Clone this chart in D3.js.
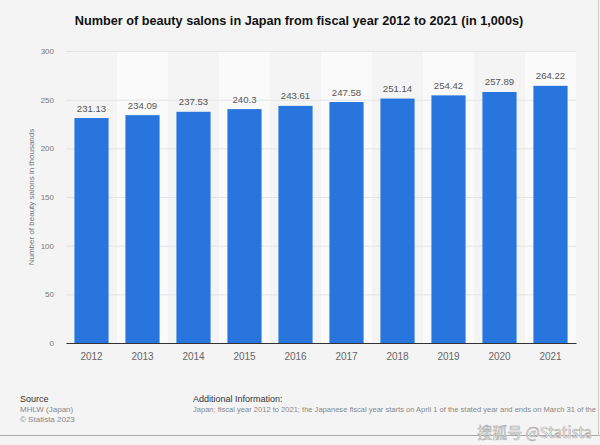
<!DOCTYPE html>
<html>
<head>
<meta charset="UTF-8">
<title>Beauty salons in Japan</title>
<script src="https://d3js.org/d3.v7.min.js"></script>
<style>
  body { margin: 0; background: #f4f4f4; }
  svg { display: block; font-family: "Liberation Sans", Arial, sans-serif; }
</style>
</head>
<body>
<div id="chart"></div>
<script>

var years = ["2012", "2013", "2014", "2015", "2016", "2017", "2018", "2019", "2020", "2021"];
var salons = [231.13, 234.09, 237.53, 240.3, 243.61, 247.58, 251.14, 254.42, 257.89, 264.22];
var yTicks = [0, 50, 100, 150, 200, 250, 300];

var W = 600, H = 445;
var margin = {top: 51, right: 24, bottom: 102, left: 66},
    width = W - margin.left - margin.right,
    height = H - margin.top - margin.bottom;

var svg = d3.select("#chart")
  .append("svg")
    .attr("width", W)
    .attr("height", H);

svg.append("rect")
  .attr("width", W).attr("height", H)
  .attr("fill", "#f4f4f4");

// title
svg.append("text")
  .attr("x", 299).attr("y", 25)
  .attr("text-anchor", "middle")
  .attr("font-size", 12.7)
  .attr("font-weight", "bold")
  .attr("fill", "#111")
  .text("Number of beauty salons in Japan from fiscal year 2012 to 2021 (in 1,000s)");

var g = svg.append("g")
  .attr("transform", "translate(" + margin.left + "," + margin.top + ")");

var x = d3.scaleBand().domain(years).range([0, width]).paddingInner(0.33).paddingOuter(0.165);
var band = d3.scaleBand().domain(years).range([0, width]);
var y = d3.scaleLinear().domain([0, 300]).range([height, 0]);

// lighter column bands
g.selectAll(".band")
  .data(years.filter(function(d, i) { return i % 2 == 1; }))
  .enter().append("rect")
    .attr("x", function(d) { return band(d); })
    .attr("y", 0)
    .attr("width", band.bandwidth())
    .attr("height", height)
    .attr("fill", "#fafafa");

// grid
g.append("g")
  .call(d3.axisLeft(y).tickValues(yTicks).tickSize(-width).tickFormat(""))
  .call(function(a) {
    a.select(".domain").remove();
    a.selectAll("line").attr("stroke", "#e4e4e4");
  });

// y tick labels
g.append("g")
  .call(d3.axisLeft(y).tickValues(yTicks).tickSize(0).tickPadding(12))
  .call(function(a) {
    a.select(".domain").remove();
    a.selectAll("text")
      .attr("font-family", "Liberation Sans, Arial, sans-serif")
      .attr("font-size", 8)
      .attr("fill", "#777");
  });

// bars
g.selectAll(".bar")
  .data(salons)
  .enter().append("rect")
    .attr("x", function(d, i) { return x(years[i]); })
    .attr("y", function(d) { return y(d); })
    .attr("width", x.bandwidth())
    .attr("height", function(d) { return height - y(d); })
    .attr("fill", "#2876dd");

// value labels
g.selectAll(".val")
  .data(salons)
  .enter().append("text")
    .attr("x", function(d, i) { return x(years[i]) + x.bandwidth() / 2; })
    .attr("y", function(d) { return y(d) - 6.5; })
    .attr("text-anchor", "middle")
    .attr("font-size", 9.6)
    .attr("fill", "#555")
    .text(function(d) { return d; });

// x axis
g.append("g")
  .attr("transform", "translate(0," + height + ")")
  .call(d3.axisBottom(x).tickSize(0).tickPadding(10))
  .call(function(a) {
    a.select(".domain").attr("stroke", "#333").attr("stroke-width", 1.2);
    a.selectAll("text")
      .attr("font-family", "Liberation Sans, Arial, sans-serif")
      .attr("font-size", 10)
      .attr("fill", "#666");
  });

// y axis title
svg.append("text")
  .attr("transform", "translate(34," + (margin.top + height / 2) + ") rotate(-90)")
  .attr("text-anchor", "middle")
  .attr("font-size", 8)
  .attr("fill", "#777")
  .text("Number of beauty salons in thousands");

// footer
svg.append("text").attr("x", 20).attr("y", 402)
  .attr("font-size", 9).attr("fill", "#333").text("Source");
svg.append("text").attr("x", 20).attr("y", 412)
  .attr("font-size", 8).attr("fill", "#888").text("MHLW (Japan)");
svg.append("text").attr("x", 20).attr("y", 421.5)
  .attr("font-size", 8).attr("fill", "#888").text("\u00a9 Statista 2023");

svg.append("text").attr("x", 193).attr("y", 402)
  .attr("font-size", 9).attr("fill", "#333").text("Additional Information:");
svg.append("text").attr("x", 193).attr("y", 412)
  .attr("font-size", 7.6).attr("fill", "#888")
  .attr("textLength", 403).attr("lengthAdjust", "spacingAndGlyphs")
  .text("Japan; fiscal year 2012 to 2021; the Japanese fiscal year starts on April 1 of the stated year and ends on March 31 of the");

// frame lines
svg.append("line").attr("x1", 0).attr("x2", W).attr("y1", 435.5).attr("y2", 435.5)
  .attr("stroke", "#aaa");
svg.append("line").attr("x1", 598.5).attr("x2", 598.5).attr("y1", 0).attr("y2", 436)
  .attr("stroke", "#ccc");

// watermark
svg.append("text").attr("x", 592).attr("y", 438)
  .attr("text-anchor", "end")
  .attr("font-family", "Noto Sans CJK SC, sans-serif")
  .attr("font-size", 15)
  .attr("fill", "#fff")
  .attr("stroke", "#aaa")
  .attr("stroke-width", 0.6)
  .text("搜狐号 @Statista");

</script>
</body>
</html>
